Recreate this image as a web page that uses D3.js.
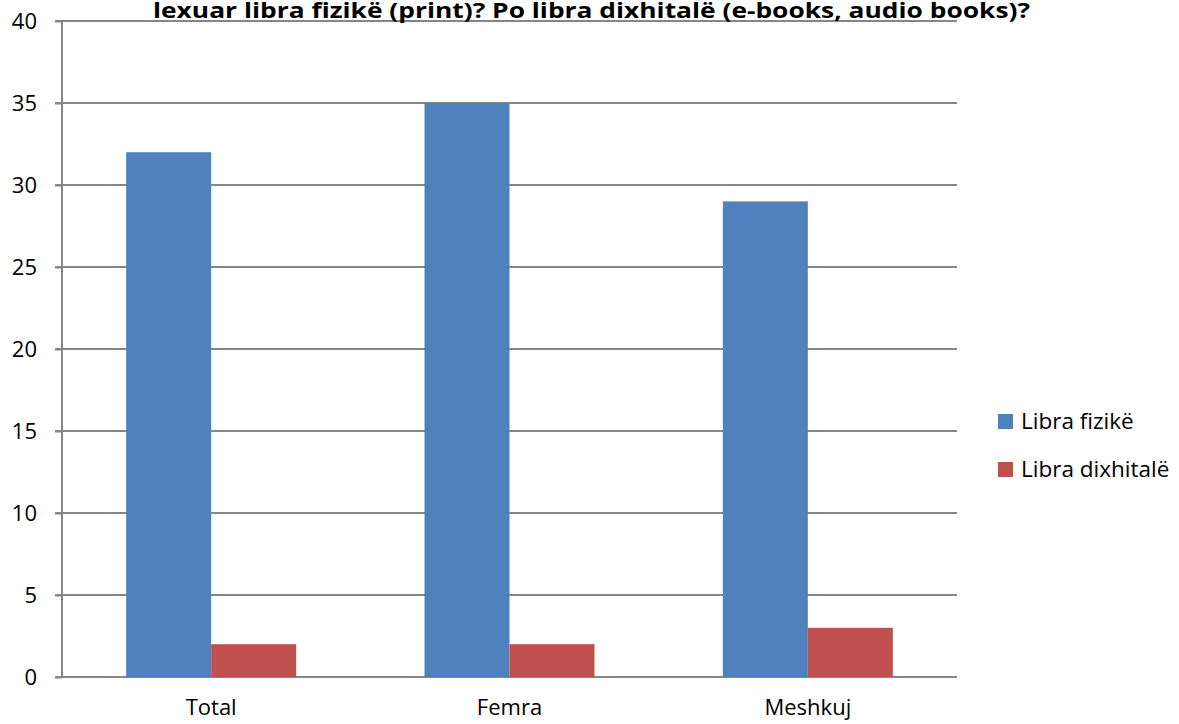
<!DOCTYPE html>
<html>
<head>
<meta charset="utf-8">
<script src="https://cdn.jsdelivr.net/npm/d3@7"></script>
<style>
  body { margin: 0; background: #fff; }
  text { font-family: "Open Sans", "Liberation Sans", sans-serif; }
</style>
</head>
<body>
<div id="wrapper"></div>
<script>
const categories = ["Total", "Femra", "Meshkuj"];
const seriesNames = ["Libra fizikë", "Libra dixhitalë"];
const printValues = [32, 35, 29];
const digitalValues = [2, 2, 3];
const yTicks = [0, 5, 10, 15, 20, 25, 30, 35, 40];
const titleLine = "lexuar libra fizikë (print)? Po libra dixhitalë (e-books, audio books)?";

const colors = ["#4F81BD", "#C0504D"];

const dimension = {
    width: 1179,
    height: 724,
    margin: { top: 21, left: 62, bottom: 47, right: 222 }
};
dimension.boundedWidth = dimension.width - dimension.margin.left - dimension.margin.right;
dimension.boundedHeight = dimension.height - dimension.margin.top - dimension.margin.bottom;

const data = categories.map((c, i) => ({ cat: c, values: [printValues[i], digitalValues[i]] }));

const svg = d3.select("#wrapper").append("svg")
    .attr("width", dimension.width)
    .attr("height", dimension.height);

const bounded = svg.append("g")
    .attr("transform", `translate(${dimension.margin.left},${dimension.margin.top})`);

const yScaler = d3.scaleLinear()
    .domain([0, 40])
    .range([dimension.boundedHeight, 0]);

const x0 = d3.scaleBand()
    .domain(categories)
    .range([0, dimension.boundedWidth])
    .padding(0);

const x1 = d3.scaleBand()
    .domain([0, 1])
    .range([0, x0.bandwidth()])
    .paddingInner(0)
    .paddingOuter(0.755);

// gridlines
bounded.append("g")
    .selectAll("line")
    .data(yTicks)
    .join("line")
    .attr("x1", -7)
    .attr("x2", dimension.boundedWidth)
    .attr("y1", d => yScaler(d))
    .attr("y2", d => yScaler(d))
    .attr("stroke", "#868686")
    .attr("stroke-width", 2);

// bars
const groups = bounded.append("g")
    .selectAll("g")
    .data(data)
    .join("g")
    .attr("transform", d => `translate(${x0(d.cat)},0)`);

groups.selectAll("rect")
    .data(d => d.values.map((v, i) => ({ v, i })))
    .join("rect")
    .attr("x", d => x1(d.i))
    .attr("width", x1.bandwidth())
    .attr("y", d => yScaler(d.v))
    .attr("height", d => yScaler(0) - yScaler(d.v))
    .attr("fill", d => colors[d.i]);

// y axis
const yAxis = d3.axisLeft(yScaler)
    .tickValues(yTicks)
    .tickSize(7)
    .tickPadding(18);

const yg = bounded.append("g").call(yAxis);
yg.select(".domain").attr("stroke", "#868686").attr("stroke-width", 2).attr("d", `M0,0V${dimension.boundedHeight}`);
yg.selectAll(".tick line").attr("stroke", "#868686").attr("stroke-width", 2);
yg.selectAll(".tick text")
    .attr("font-size", 22)
    .attr("fill", "#000")
    .style("font-family", "'Open Sans', sans-serif");

// x axis labels
const xAxis = d3.axisBottom(x0).tickSize(0).tickPadding(22);
const xg = bounded.append("g")
    .attr("transform", `translate(0,${dimension.boundedHeight})`)
    .call(xAxis);
xg.select(".domain").remove();
xg.selectAll(".tick text")
    .attr("font-size", 22)
    .attr("fill", "#000")
    .style("font-family", "'Open Sans', sans-serif");

// title (its first line is above the top of the picture)
svg.append("text")
    .attr("x", 153)
    .attr("y", 18)
    .attr("font-size", 21)
    .attr("font-weight", "bold")
    .attr("textLength", 877)
    .attr("lengthAdjust", "spacingAndGlyphs")
    .text(titleLine);

// legend
const legend = svg.append("g")
    .attr("transform", "translate(998,414)");

const items = legend.selectAll("g")
    .data(seriesNames)
    .join("g")
    .attr("transform", (d, i) => `translate(0,${i * 48})`);

items.append("rect")
    .attr("width", 15)
    .attr("height", 15)
    .attr("fill", (d, i) => colors[i]);

items.append("text")
    .attr("x", 23)
    .attr("y", 7.5)
    .attr("dy", "0.35em")
    .attr("font-size", 22.5)
    .attr("fill", "#000")
    .text(d => d);
</script>
</body>
</html>
